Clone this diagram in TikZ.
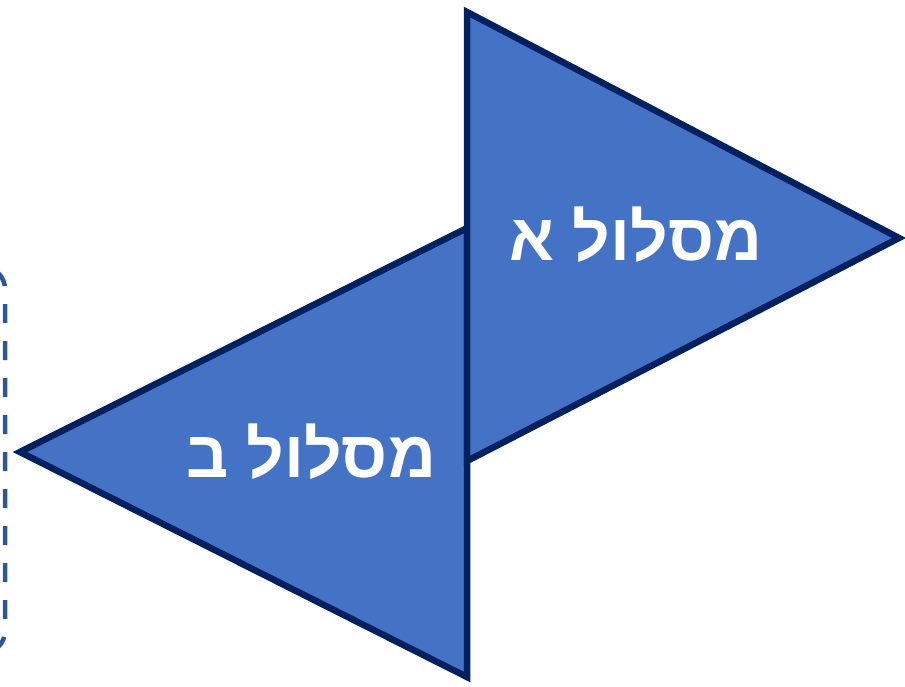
\documentclass[tikz,border=0pt]{standalone}
\usepackage{fontspec}
\TeXXeTstate=1
\newfontfamily\hebfont[Script=Hebrew]{Liberation Sans}
\definecolor{trifill}{HTML}{4472C4}
\definecolor{tridraw}{HTML}{002060}
\definecolor{dashcol}{HTML}{2F5597}
\tikzset{
  tri/.style={fill=trifill, draw=tridraw, line width=6.5pt, line join=miter},
  lbl/.style={text=white, font=\hebfont\bfseries\fontsize{66}{68}\selectfont, inner sep=0pt},
  dashbox/.style={draw=dashcol, line width=4.5pt, dash pattern=on 19pt off 18pt, rounded corners=22pt}
}
\begin{document}
\begin{tikzpicture}[x=1pt,y=-1pt]
\useasboundingbox (0,0) rectangle (905,686);
\begin{scope}
\clip (0,0) rectangle (905,686);
\draw[dashbox] (-60,267) rectangle (5,653);
\end{scope}
\draw[tri] (467,228) -- (20,452) -- (467,677) -- cycle;
\draw[tri] (467,12) -- (899,238) -- (467,461) -- cycle;
\node[lbl] (a) at (636,235) {\beginR מסלול א\endR};
\node[lbl] (b) at (311,452) {\beginR מסלול ב\endR};
\end{tikzpicture}
\end{document}
